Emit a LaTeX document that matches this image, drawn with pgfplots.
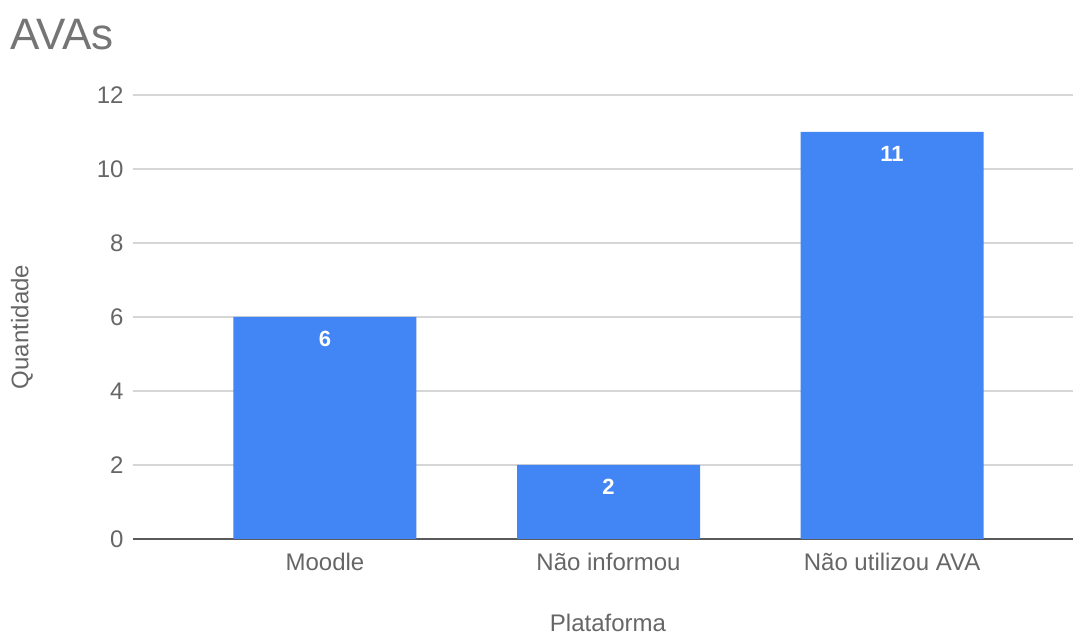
\documentclass[border=0pt]{standalone}
\usepackage{fontspec}
\setmainfont{Liberation Sans}
\usepackage{pgfplots}
\pgfplotsset{compat=1.18}
\definecolor{barblue}{HTML}{4285F4}
\definecolor{gridgray}{HTML}{D6D6D6}
\definecolor{txtgray}{HTML}{666666}
\definecolor{titlegray}{HTML}{757575}
\definecolor{basegray}{HTML}{5A5A5A}
\begin{document}
\begin{tikzpicture}
\useasboundingbox (0,0) rectangle (1073pt,639pt);
\begin{axis}[
  at={(133pt,100pt)}, anchor=south west,
  scale only axis, width=940pt, height=444pt,
  xmin=-0.677, xmax=2.638, ymin=0, ymax=12,
  axis line style={draw=none},
  major tick length=0pt,
  ytick={2,4,6,8,10,12},
  extra y ticks={0},
  extra y tick style={grid style={draw=basegray, line width=2pt}},
  ymajorgrids,
  grid style={draw=gridgray, line width=1.3pt},
  xtick={0,1,2},
  xticklabels={Moodle, Não informou, Não utilizou AVA},
  /pgf/number format/assume math mode=true,
  tick label style={font=\fontsize{24}{28}\selectfont, text=txtgray},
  yticklabel style={xshift=-6pt},
  xticklabel style={yshift=-11pt},
  ybar, bar width=183pt,
  nodes near coords,
  every node near coord/.append style={anchor=north, yshift=-11pt, text=white, font=\fontsize{22}{26}\selectfont\bfseries},
]
\addplot[fill=barblue, draw=none] coordinates {(0,6) (1,2) (2,11)};
\end{axis}
\node[anchor=base west, text=titlegray, font=\fontsize{44}{50}\selectfont, inner sep=0pt] at (10pt,589pt) {AVAs};
\node[rotate=90, text=txtgray, font=\fontsize{24}{28}\selectfont] at (22pt,312pt) {Quantidade};
\node[anchor=base, inner sep=0pt, text=txtgray, font=\fontsize{24}{28}\selectfont] at (608pt,7pt) {Plataforma};
\end{tikzpicture}
\end{document}
